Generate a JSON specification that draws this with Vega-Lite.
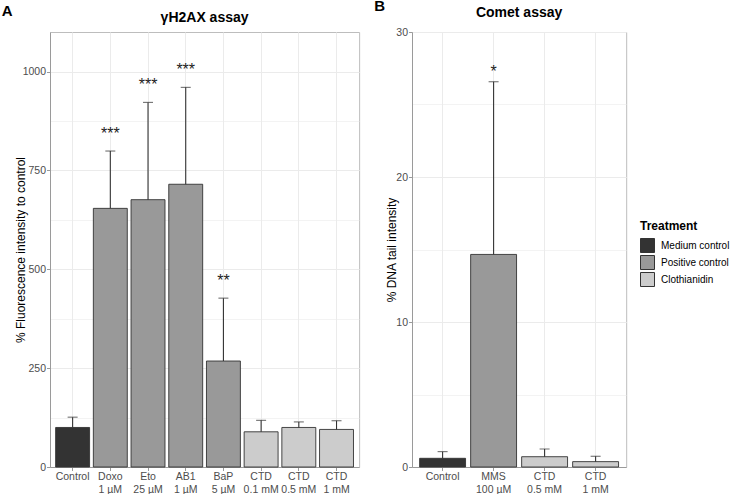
{
  "$schema": "https://vega.github.io/schema/vega-lite/v6.json",
  "padding": {"left": 1, "top": -2, "right": 2, "bottom": 2},
  "background": "white",
  "config": {
    "font": "Liberation Sans",
    "view": {"stroke": "#bdbdbd", "strokeWidth": 1},
    "title": {"font": "Liberation Sans", "fontSize": 14, "fontWeight": "bold", "color": "#000000"},
    "axis": {
      "labelFont": "Liberation Sans",
      "labelFontSize": 10.5,
      "labelColor": "#4d4d4d",
      "titleFont": "Liberation Sans",
      "titleFontSize": 12,
      "titleFontWeight": "normal",
      "titleColor": "#000000",
      "domainColor": "#9a9a9a",
      "domainWidth": 1,
      "tickColor": "#9a9a9a",
      "tickSize": 3.5,
      "labelPadding": 1,
      "gridColor": "#ebebeb"
    },
    "legend": {
      "titleFont": "Liberation Sans",
      "titleFontSize": 12,
      "titleFontWeight": "bold",
      "titleColor": "#000000",
      "labelFont": "Liberation Sans",
      "labelFontSize": 10,
      "labelColor": "#000000",
      "symbolType": "square",
      "symbolSize": 196,
      "symbolStrokeColor": "#333333",
      "symbolStrokeWidth": 1,
      "labelOffset": 6,
      "titlePadding": 5
    }
  },
  "datasets": {
    "gh2ax": [
      {"treatment": "Control", "group": "Medium control", "mean": 100, "upper": 126, "stars": ""},
      {"treatment": "Doxo|1 µM", "group": "Positive control", "mean": 654, "upper": 799, "stars": "***"},
      {"treatment": "Eto|25 µM", "group": "Positive control", "mean": 676, "upper": 922, "stars": "***"},
      {"treatment": "AB1|1 µM", "group": "Positive control", "mean": 715, "upper": 960, "stars": "***"},
      {"treatment": "BaP|5 µM", "group": "Positive control", "mean": 268, "upper": 427, "stars": "**"},
      {"treatment": "CTD|0.1 mM", "group": "Clothianidin", "mean": 89, "upper": 118, "stars": ""},
      {"treatment": "CTD|0.5 mM", "group": "Clothianidin", "mean": 100, "upper": 114, "stars": ""},
      {"treatment": "CTD|1 mM", "group": "Clothianidin", "mean": 95, "upper": 117, "stars": ""}
    ],
    "comet": [
      {"treatment": "Control", "group": "Medium control", "mean": 0.6, "upper": 1.06, "stars": ""},
      {"treatment": "MMS|100 µM", "group": "Positive control", "mean": 14.66, "upper": 26.57, "stars": "*"},
      {"treatment": "CTD|0.5 mM", "group": "Clothianidin", "mean": 0.71, "upper": 1.24, "stars": ""},
      {"treatment": "CTD|1 mM", "group": "Clothianidin", "mean": 0.37, "upper": 0.74, "stars": ""}
    ]
  },
  "resolve": {"scale": {"color": "independent"}, "legend": {"color": "independent"}},
  "spacing": 14,
  "hconcat": [
    {
      "title": {"text": "A", "anchor": "start", "frame": "bounds", "fontSize": 15, "offset": -8, "dx": -12},
      "resolve": {"scale": {"color": "independent"}, "legend": {"color": "independent"}},
      "hconcat": [
        {
          "title": {"text": "γH2AX assay", "anchor": "middle", "frame": "group", "offset": 7},
          "width": {"step": 37.7},
          "height": 435,
          "data": {"name": "gh2ax"},
          "encoding": {
            "x": {
              "field": "treatment", "type": "nominal", "sort": null,
              "scale": {"paddingInner": 0.1, "paddingOuter": 0.15},
              "axis": {"title": null, "labelAngle": 0, "bandPosition": 0.5, "grid": true, "gridWidth": 1, "labelExpr": "split(datum.value, '|')", "labelLineHeight": 12.5}
            }
          },
          "layer": [
            {
              "mark": {"type": "bar", "stroke": "#333333", "strokeWidth": 0.9},
              "encoding": {
                "y": {
                  "field": "mean", "type": "quantitative",
                  "scale": {"domain": [0, 1100], "nice": false, "zero": true},
                  "axis": {
                    "title": "% Fluorescence intensity to control",
                    "values": [0, 125, 250, 375, 500, 625, 750, 875, 1000],
                    "format": "d",
                    "labelExpr": "datum.value % 250 == 0 ? datum.label : ''",
                    "tickOpacity": {"condition": {"test": "datum.value % 250 == 0", "value": 1}, "value": 0},
                    "gridWidth": {"condition": {"test": "datum.value % 250 == 0", "value": 1}, "value": 0.6},
                    "titlePadding": -5
                  }
                },
                "color": {
                  "field": "group", "type": "nominal",
                  "scale": {"domain": ["Medium control", "Positive control", "Clothianidin"], "range": ["#333333", "#999999", "#cccccc"]},
                  "legend": null
                }
              }
            },
            {
              "mark": {"type": "rule", "color": "#333333", "strokeWidth": 1.1},
              "encoding": {"y": {"field": "mean", "type": "quantitative"}, "y2": {"field": "upper"}}
            },
            {
              "mark": {"type": "tick", "color": "#333333", "size": 10, "thickness": 1.1, "orient": "horizontal"},
              "encoding": {"y": {"field": "upper", "type": "quantitative"}}
            },
            {
              "mark": {"type": "text", "fontSize": 16, "color": "#222222", "baseline": "alphabetic", "dy": -12},
              "encoding": {"y": {"field": "upper", "type": "quantitative"}, "text": {"field": "stars"}}
            }
          ]
        }
      ]
    },
    {
      "title": {"text": "B", "anchor": "start", "frame": "bounds", "fontSize": 15, "offset": -8, "dx": -11},
      "resolve": {"scale": {"color": "independent"}, "legend": {"color": "independent"}},
      "hconcat": [
        {
          "title": {"text": "Comet assay", "anchor": "middle", "frame": "group", "offset": 7},
          "width": {"step": 51},
          "height": 435,
          "data": {"name": "comet"},
          "encoding": {
            "x": {
              "field": "treatment", "type": "nominal", "sort": null,
              "scale": {"paddingInner": 0.1, "paddingOuter": 0.15},
              "axis": {"title": null, "labelAngle": 0, "bandPosition": 0.5, "grid": true, "gridWidth": 1, "labelExpr": "split(datum.value, '|')", "labelLineHeight": 12.5}
            }
          },
          "layer": [
            {
              "mark": {"type": "bar", "stroke": "#333333", "strokeWidth": 0.9},
              "encoding": {
                "y": {
                  "field": "mean", "type": "quantitative",
                  "scale": {"domain": [0, 30], "nice": false, "zero": true},
                  "axis": {
                    "title": "% DNA  tail intensity",
                    "values": [0, 5, 10, 15, 20, 25, 30],
                    "format": "d",
                    "labelExpr": "datum.value % 10 == 0 ? datum.label : ''",
                    "tickOpacity": {"condition": {"test": "datum.value % 10 == 0", "value": 1}, "value": 0},
                    "gridWidth": {"condition": {"test": "datum.value % 10 == 0", "value": 1}, "value": 0.6},
                    "titlePadding": -3
                  }
                },
                "color": {
                  "field": "group", "type": "nominal",
                  "scale": {"domain": ["Medium control", "Positive control", "Clothianidin"], "range": ["#333333", "#999999", "#cccccc"]},
                  "legend": {"title": "Treatment", "orient": "none", "legendX": 228, "legendY": 189, "rowPadding": -4}
                }
              }
            },
            {
              "mark": {"type": "rule", "color": "#333333", "strokeWidth": 1.1},
              "encoding": {"y": {"field": "mean", "type": "quantitative"}, "y2": {"field": "upper"}}
            },
            {
              "mark": {"type": "tick", "color": "#333333", "size": 10, "thickness": 1.1, "orient": "horizontal"},
              "encoding": {"y": {"field": "upper", "type": "quantitative"}}
            },
            {
              "mark": {"type": "text", "fontSize": 16, "color": "#222222", "baseline": "alphabetic", "dy": -5},
              "encoding": {"y": {"field": "upper", "type": "quantitative"}, "text": {"field": "stars"}}
            }
          ]
        }
      ]
    }
  ]
}
